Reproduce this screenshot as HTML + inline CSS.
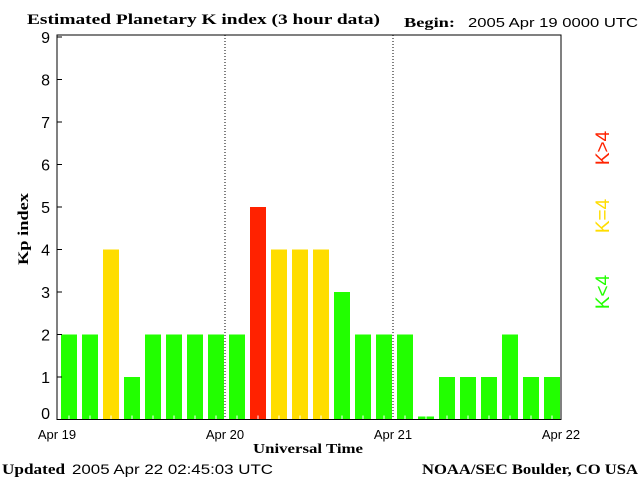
<!DOCTYPE html>
<html><head><meta charset="utf-8"><style>
body{margin:0;background:#fff}
svg text{font-family:"Liberation Sans",sans-serif}
.b{font-family:"Liberation Serif",serif;font-weight:bold}
</style></head><body>
<svg width="640" height="480" xmlns="http://www.w3.org/2000/svg">
<text class="b" x="27" y="24" font-size="15" textLength="353" lengthAdjust="spacingAndGlyphs">Estimated Planetary K index (3 hour data)</text>
<text class="b" x="404" y="27" font-size="14" textLength="51" lengthAdjust="spacingAndGlyphs">Begin:</text>
<text x="468" y="27" font-size="13" textLength="170" lengthAdjust="spacingAndGlyphs">2005 Apr 19 0000 UTC</text>
<g id="plot"></g>
<text class="b" x="253" y="453" font-size="14" textLength="110" lengthAdjust="spacingAndGlyphs">Universal Time</text>
<text class="b" x="28" y="229" font-size="15" text-anchor="middle" textLength="72" lengthAdjust="spacingAndGlyphs" transform="rotate(-90 28 229)">Kp index</text>
<text class="b" x="2" y="474" font-size="15" textLength="63" lengthAdjust="spacingAndGlyphs">Updated</text>
<text x="72" y="474" font-size="14" textLength="201" lengthAdjust="spacingAndGlyphs">2005 Apr 22 02:45:03 UTC</text>
<text class="b" x="422" y="474" font-size="15" textLength="216" lengthAdjust="spacingAndGlyphs">NOAA/SEC Boulder, CO USA</text>
<text x="609" y="292" font-size="19" fill="#22ff00" text-anchor="middle" transform="rotate(-90 609 292)">K&lt;4</text>
<text x="609" y="216" font-size="19" fill="#ffdd00" text-anchor="middle" transform="rotate(-90 609 216)">K=4</text>
<text x="609" y="148" font-size="19" fill="#ff2200" text-anchor="middle" transform="rotate(-90 609 148)">K&gt;4</text>
</svg>
<script>
const kpValues=[2,2,4,1,2,2,2,2, 2,5,4,4,4,3,2,2, 2,0,1,1,1,2,1,1];
const dayLabels=["Apr 19","Apr 20","Apr 21","Apr 22"];
const yTicks=[0,1,2,3,4,5,6,7,8,9];
const NS="http://www.w3.org/2000/svg";
const g=document.getElementById('plot');
const L=57,R=561,T=35,B=419.5;
const x=i=>L+(R-L)*i/kpValues.length;
const y=v=>B-(B-37)*v/9;
function mk(t,a){const e=document.createElementNS(NS,t);for(const k in a)e.setAttribute(k,a[k]);g.appendChild(e);return e;}
kpValues.forEach((v,i)=>{
 const c=v>4?"#ff2200":(v==4?"#ffdd00":"#22ff00");
 const top=Math.min(y(v),B-3);
 const r=mk('rect',{x:x(i)+4,y:top,width:16,height:B-top,fill:c});
 
 
 const t=mk('line',{x1:x(i)+12,x2:x(i)+12,y1:B-4,y2:B,stroke:"#fff"});
 
 
});
dayLabels.forEach((d,i)=>{
 const xx=L+(R-L)*i/3;
 if(i>0&&i<3){const l=mk('line',{x1:xx,x2:xx,y1:T,y2:B,stroke:"#000","stroke-dasharray":"1,2"});
 
 }
 const t=mk('text',{x:xx,y:439,"font-size":13,"text-anchor":"middle"});t.textContent=d;
 
 
});
yTicks.forEach(v=>{
 const yy=y(v);
 const l=mk('line',{x1:L,x2:L+5,y1:yy,y2:yy,stroke:"#000"});
 
 
 const t=mk('text',{x:50,y:Math.min(yy+6,419),"font-size":16,"text-anchor":"end"});t.textContent=v;
 
 
});
const f=mk('rect',{x:L,y:T,width:R-L,height:B-T,fill:"none",stroke:"#000"});


</script>
</body></html>
